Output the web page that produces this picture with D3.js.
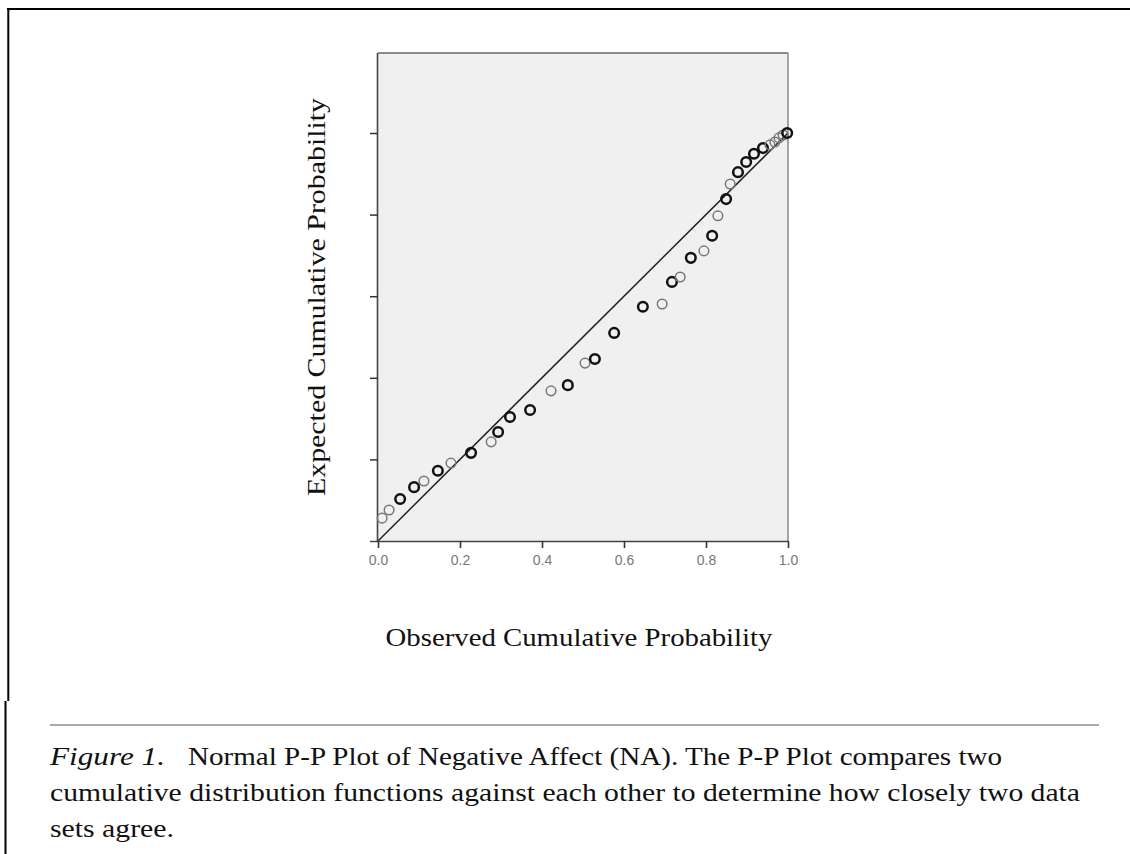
<!DOCTYPE html>
<html>
<head>
<meta charset="utf-8">
<script src="https://cdn.jsdelivr.net/npm/d3@7"></script>
<style>
  body { margin: 0; background: #fff; }
  svg { display: block; }
</style>
</head>
<body>
<svg></svg>
<script>
// observed vs expected cumulative probability
const observed = [
  0.010, 0.027, 0.054, 0.088, 0.112, 0.146, 0.178, 0.227, 0.276, 0.293,
  0.322, 0.371, 0.422, 0.463, 0.505, 0.529, 0.576, 0.646, 0.693, 0.717,
  0.737, 0.763, 0.795, 0.815, 0.829, 0.849, 0.859, 0.878, 0.898, 0.917,
  0.939, 0.956, 0.968, 0.978, 0.988, 0.998
];
const expected = [
  0.056, 0.076, 0.103, 0.132, 0.147, 0.172, 0.191, 0.216, 0.243, 0.267,
  0.304, 0.321, 0.368, 0.382, 0.436, 0.446, 0.510, 0.574, 0.581, 0.635,
  0.647, 0.694, 0.711, 0.748, 0.797, 0.838, 0.875, 0.904, 0.929, 0.949,
  0.963, 0.971, 0.978, 0.988, 0.995, 1.000
];
// overlapping cases (tied values draw darker)
const ties = [
  1, 1, 2, 2, 1, 2, 1, 2, 1, 2,
  2, 2, 1, 2, 1, 2, 2, 2, 1, 2,
  1, 2, 1, 2, 1, 2, 1, 2, 2, 2,
  2, 1, 1, 1, 1, 2
];
const xTicks = [0, 0.2, 0.4, 0.6, 0.8, 1.0];
const yTicks = [0.2, 0.4, 0.6, 0.8, 1.0];
const xTitle = "Observed Cumulative Probability";
const yTitle = "Expected Cumulative Probability";
const captionLead = "Figure 1.";
const captionLines = [
  "Normal P-P Plot of Negative Affect (NA). The P-P Plot compares two",
  "cumulative distribution functions against each other to determine how closely two data",
  "sets agree."
];

const values = observed.map((x, i) => ({ x: x, y: expected[i], n: ties[i] }));

const width = 1130;
const height = 854;
const plot = { left: 378, right: 788, top: 53, bottom: 541 };

const svg = d3.select("svg");
let xScale;
let yScale;

function drawCanvas() {
  svg.attr("width", width).attr("height", height);

  // page borders
  svg.append("line").attr("x1", 7).attr("x2", width).attr("y1", 9).attr("y2", 9)
    .attr("stroke", "#000").attr("stroke-width", 2.2);
  svg.append("line").attr("x1", 8.3).attr("x2", 8.3).attr("y1", 8).attr("y2", 701)
    .attr("stroke", "#000").attr("stroke-width", 2);
  svg.append("line").attr("x1", 5.5).attr("x2", 5.5).attr("y1", 701).attr("y2", height)
    .attr("stroke", "#000").attr("stroke-width", 2);
  svg.append("line").attr("x1", 50).attr("x2", 1099).attr("y1", 725).attr("y2", 725)
    .attr("stroke", "#aaa").attr("stroke-width", 2);
}

function generateScales() {
  xScale = d3.scaleLinear().domain([0, 1]).range([plot.left, plot.right]);
  yScale = d3.scaleLinear().domain([0, 1]).range([plot.bottom, 133]);
}

function drawPlotArea() {
  svg.append("rect")
    .attr("x", plot.left).attr("y", plot.top)
    .attr("width", plot.right - plot.left).attr("height", plot.bottom - plot.top)
    .attr("fill", "#f0f0f0");

  svg.append("line")
    .attr("x1", plot.left).attr("x2", plot.right).attr("y1", plot.top).attr("y2", plot.top)
    .attr("stroke", "#666").attr("stroke-width", 1.5);
  svg.append("line")
    .attr("x1", plot.right).attr("x2", plot.right).attr("y1", plot.top).attr("y2", plot.bottom)
    .attr("stroke", "#888").attr("stroke-width", 1.5);

  // reference diagonal
  svg.append("line")
    .attr("x1", xScale(0)).attr("y1", yScale(0))
    .attr("x2", xScale(1)).attr("y2", yScale(1))
    .attr("stroke", "#222").attr("stroke-width", 1.5);
}

function drawPoints() {
  svg.append("g")
    .selectAll("circle")
    .data(values)
    .enter()
    .append("circle")
    .attr("cx", (d) => xScale(d.x))
    .attr("cy", (d) => yScale(d.y))
    .attr("r", 4.8)
    .attr("fill", "none")
    .attr("stroke", (d) => (d.n > 1 ? "#111" : "#777"))
    .attr("stroke-width", (d) => (d.n > 1 ? 2.5 : 1.5));
}

function generateAxes() {
  const xAxis = d3.axisBottom(xScale).tickValues(xTicks).tickFormat(d3.format(".1f"))
    .tickSize(7).tickSizeOuter(0);
  const gx = svg.append("g")
    .attr("transform", `translate(0, ${plot.bottom})`)
    .call(xAxis);
  gx.select(".domain").attr("d", `M${plot.left - 8},0.5H${plot.right}`)
    .attr("stroke", "#444").attr("stroke-width", 1.6);
  gx.selectAll(".tick line").attr("stroke", "#333").attr("stroke-width", 1.6);
  gx.selectAll(".tick text")
    .attr("y", 14)
    .attr("font-family", "Liberation Sans, Arial, sans-serif")
    .attr("font-size", 14)
    .attr("fill", "#777");

  const yAxis = d3.axisLeft(yScale).tickValues(yTicks).tickFormat("")
    .tickSize(8).tickSizeOuter(0);
  const gy = svg.append("g")
    .attr("transform", `translate(${plot.left}, 0)`)
    .call(yAxis);
  gy.select(".domain").attr("d", `M-0.5,${plot.top}V${plot.bottom}`)
    .attr("stroke", "#444").attr("stroke-width", 1.6);
  gy.selectAll(".tick line").attr("stroke", "#333").attr("stroke-width", 1.5);
}

function drawLabels() {
  const serif = "Liberation Serif, Times New Roman, serif";

  svg.append("text")
    .attr("x", 579).attr("y", 646)
    .attr("text-anchor", "middle")
    .attr("font-family", serif).attr("font-size", 25).attr("fill", "#111")
    .attr("textLength", 387).attr("lengthAdjust", "spacingAndGlyphs")
    .text(xTitle);

  svg.append("text")
    .attr("transform", "translate(325, 297) rotate(-90)")
    .attr("text-anchor", "middle")
    .attr("font-family", serif).attr("font-size", 25).attr("fill", "#111")
    .attr("textLength", 398).attr("lengthAdjust", "spacingAndGlyphs")
    .text(yTitle);

  const cap = svg.append("g")
    .attr("font-family", serif).attr("font-size", 26).attr("fill", "#111");

  cap.append("text").attr("x", 50).attr("y", 765)
    .attr("font-style", "italic")
    .attr("textLength", 115).attr("lengthAdjust", "spacingAndGlyphs")
    .text(captionLead);

  const lineWidths = [814, 1030, 124];
  const lineStarts = [188, 50, 50];
  captionLines.forEach((line, i) => {
    cap.append("text")
      .attr("x", lineStarts[i]).attr("y", 765 + i * 36)
      .attr("textLength", lineWidths[i]).attr("lengthAdjust", "spacingAndGlyphs")
      .text(line);
  });
}

drawCanvas();
generateScales();
drawPlotArea();
generateAxes();
drawPoints();
drawLabels();
</script>
</body>
</html>
